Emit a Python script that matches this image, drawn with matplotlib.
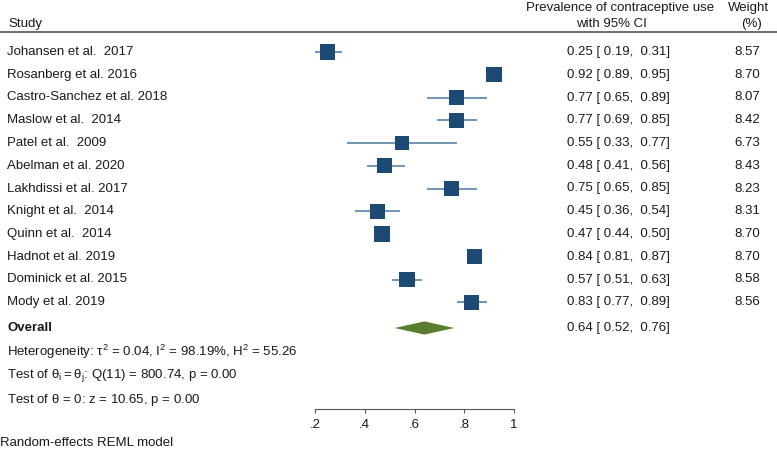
import matplotlib
matplotlib.use('Agg')

import numpy as np
import matplotlib.pyplot as plt
from matplotlib import transforms

plt.rcParams['font.family'] = ['Liberation Sans', 'DejaVu Sans']

# ------------------ DATA ------------------

studies = [
    "Johansen et al.  2017",
    "Rosanberg et al. 2016",
    "Castro-Sanchez et al. 2018",
    "Maslow et al.  2014",
    "Patel et al.  2009",
    "Abelman et al. 2020",
    "Lakhdissi et al. 2017",
    "Knight et al.  2014",
    "Quinn et al.  2014",
    "Hadnot et al. 2019",
    "Dominick et al. 2015",
    "Mody et al. 2019",
]
est = [0.25, 0.92, 0.77, 0.77, 0.55, 0.48, 0.75, 0.45, 0.47, 0.84, 0.57, 0.83]
lo = [0.19, 0.89, 0.65, 0.69, 0.33, 0.41, 0.65, 0.36, 0.44, 0.81, 0.51, 0.77]
hi = [0.31, 0.95, 0.89, 0.85, 0.77, 0.56, 0.85, 0.54, 0.50, 0.87, 0.63, 0.89]
weights = [8.57, 8.70, 8.07, 8.42, 6.73, 8.43, 8.23, 8.31, 8.70, 8.70, 8.58, 8.56]

overall = 0.64
overall_lo = 0.52
overall_hi = 0.76

xticks = [0.2, 0.4, 0.6, 0.8, 1.0]
xticklabels = [".2", ".4", ".6", ".8", "1"]

stats_lines = [
    r"Heterogeneity: $\mathregular{\tau^2}$ = 0.04, $\mathregular{I^2}$ = 98.19%, $\mathregular{H^2}$ = 55.26",
    r"Test of $\mathregular{\theta_i = \theta_j}$: Q(11) = 800.74, p = 0.00",
    r"Test of $\mathregular{\theta}$ = 0: z = 10.65, p = 0.00",
]

# ------------------ STYLE ------------------

BOX = '#1c4a74'
CI_COL = '#4a76a2'
DIAMOND = '#5a7d2e'
TXT = '#1a1a1a'
FS = 9.5

W, H = 777, 450
fig = plt.figure(figsize=(W / 100, H / 100), dpi=100)

# forest axes: x from px 315 to 514, y from px 40 to 409
ax = fig.add_axes([315 / W, 1 - 409 / H, 199 / W, 369 / H])
row_step = 22.75
ax.set_xlim(0.2, 1.0)
ax.set_ylim((409 - 52) / row_step, (40 - 52) / row_step)

n = len(studies)
rows = np.arange(n)
overall_row = (328 - 52) / row_step

for i in range(n):
    ax.plot([lo[i], hi[i]], [rows[i], rows[i]], color=CI_COL, lw=1.1,
            solid_capstyle='butt', zorder=2)
sizes = (5.2 * np.sqrt(weights) * 0.72) ** 2
ax.scatter(est, rows, s=sizes, marker='s', color=BOX, linewidths=0, zorder=3)

dh = 0.29
ax.fill([overall_lo, overall, overall_hi, overall],
        [overall_row, overall_row - dh, overall_row, overall_row + dh],
        color=DIAMOND, lw=0, zorder=3)

for side in ['top', 'right', 'left']:
    ax.spines[side].set_visible(False)
ax.spines['bottom'].set_color('#555555')
ax.spines['bottom'].set_linewidth(0.8)
ax.set_yticks([])
ax.set_xticks(xticks)
ax.set_xticklabels(xticklabels, fontsize=FS, color=TXT)
ax.tick_params(axis='x', direction='out', length=3, width=0.8, color='#555555', pad=4)
ax.patch.set_alpha(0)

# text placed in figure-x / row-y coordinates
tr = transforms.blended_transform_factory(fig.transFigure, ax.transData)

def put(xpx, row, s, **kw):
    kw.setdefault('fontsize', FS)
    kw.setdefault('color', TXT)
    kw.setdefault('va', 'center')
    ax.text(xpx / W, row, s, transform=tr, clip_on=False, **kw)

def prow(ypx):
    return (ypx - 52) / row_step

# header
put(8, prow(24), "Study")
put(620, prow(8), "Prevalence of contraceptive use", ha='center')
put(611, prow(24), "with 95% CI", ha='center')
put(748, prow(8), "Weight", ha='center')
put(752, prow(24), "(%)", ha='center')
ax.plot([0, 1], [prow(32), prow(32)], transform=tr, color='#555555',
        lw=1.2, clip_on=False)

for i in range(n):
    put(7, rows[i], studies[i])
    put(567, rows[i], f"{est[i]:.2f} [ {lo[i]:.2f},  {hi[i]:.2f}]")
    put(760, rows[i], f"{weights[i]:.2f}", ha='right')

put(7, overall_row, "Overall", fontweight='bold')
put(567, overall_row, f"{overall:.2f} [ {overall_lo:.2f},  {overall_hi:.2f}]")

for k, line in enumerate(stats_lines):
    put(7, prow(352 + 24 * k), line)

put(0, prow(443), "Random-effects REML model")

fig.savefig('out.png', dpi=100)
